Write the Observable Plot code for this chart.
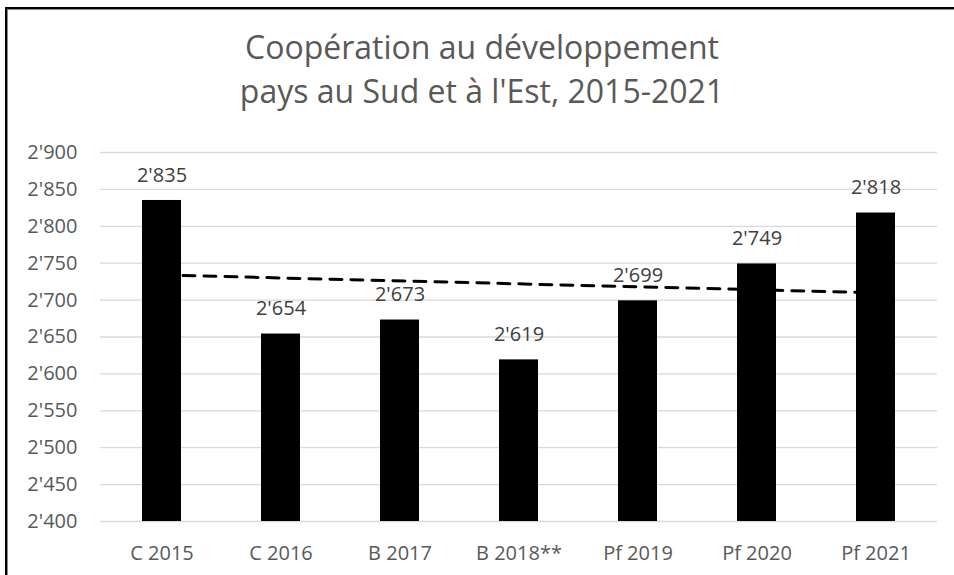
<!DOCTYPE html>
<html>
<head>
<meta charset="utf-8">
<script src="https://cdn.jsdelivr.net/npm/d3@7"></script>
<script src="https://cdn.jsdelivr.net/npm/@observablehq/plot@0.6"></script>
<style>
  html, body { margin: 0; padding: 0; background: #fff; }
  #wrap { position: relative; width: 954px; height: 575px; overflow: hidden; font-family: "Open Sans", sans-serif; }
  #frame { position: absolute; left: 5px; top: 7px; width: 960px; height: 600px;
           border-left: 2px solid #000; border-top: 2px solid #000; box-shadow: inset 1px 1px 0 #8a8a8a; pointer-events: none; }
  #title { position: absolute; left: 0; top: 25px; width: 964px; text-align: center;
           font-size: 32px; line-height: 44px; color: #595959; }
  #chart { position: absolute; left: 0; top: 0; }
</style>
</head>
<body>
<div id="wrap">
  <div id="chart"></div>
  <div id="frame"></div>
  <div id="title">Coopération au développement<br>pays au Sud et à l'Est, 2015-2021</div>
</div>
<script>
// Data
const categories = ["C 2015", "C 2016", "B 2017", "B 2018**", "Pf 2019", "Pf 2020", "Pf 2021"];
const values = [2835, 2654, 2673, 2619, 2699, 2749, 2818];
const trendCategories = ["C 2015", "Pf 2021"];
const trendValues = [2734, 2710];
const yDomain = [2400, 2900];
const yTicks = [2400, 2450, 2500, 2550, 2600, 2650, 2700, 2750, 2800, 2850, 2900];

const fmt = d3.formatLocale({decimal: ".", thousands: "'", grouping: [3], currency: ["", ""]}).format(",");

const bars = categories.map((c, i) => ({cat: c, value: values[i], base: yDomain[0]}));
const trend = trendCategories.map((c, i) => ({cat: c, value: trendValues[i]}));

const chart = Plot.plot({
  width: 954,
  height: 575,
  marginTop: 152,
  marginBottom: 54,
  marginLeft: 100,
  marginRight: 17,
  style: {fontFamily: "'Open Sans', sans-serif", background: "transparent"},
  x: {domain: categories, paddingInner: 0.67, paddingOuter: 0.335, label: null},
  y: {domain: yDomain, label: null},
  marks: [
    Plot.gridY(yTicks, {stroke: "#d9d9d9", strokeOpacity: 1, strokeWidth: 1.3}),
    Plot.line(trend, {x: "cat", y: "value", stroke: "#000", strokeWidth: 3, strokeDasharray: "12,9"}),
    Plot.barY(bars, {x: "cat", y1: "base", y2: "value", fill: "#000"}),
    Plot.text(bars, {x: "cat", y: "value", text: d => fmt(d.value), dy: -25, fontSize: 20, fill: "#404040"}),
    Plot.axisY({ticks: yTicks, tickSize: 0, tickPadding: 23, tickFormat: fmt, fontSize: 20, color: "#595959", label: null}),
    Plot.axisX({tickSize: 0, tickPadding: 24, fontSize: 20, color: "#595959", label: null})
  ]
});
document.getElementById("chart").appendChild(chart);
</script>
</body>
</html>
